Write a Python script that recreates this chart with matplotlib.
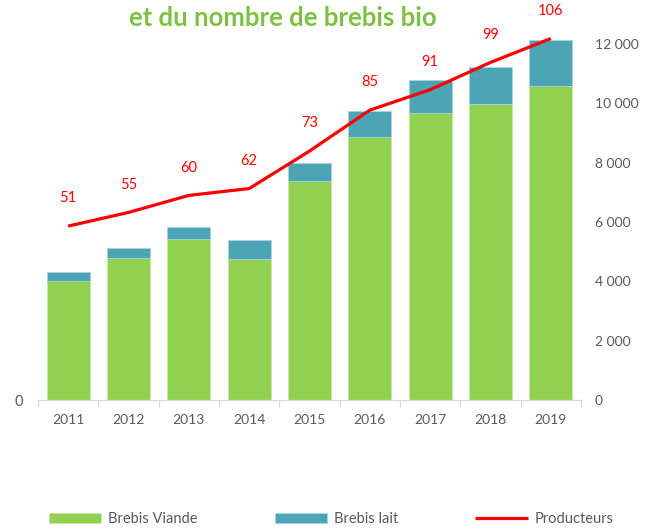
import matplotlib
matplotlib.use("Agg")
import matplotlib.pyplot as plt
from matplotlib.ticker import FuncFormatter, FixedLocator

plt.rcParams['font.family'] = ['Lato', 'DejaVu Sans']

years = ["2011", "2012", "2013", "2014", "2015", "2016", "2017", "2018", "2019"]
brebis_viande = [4010, 4770, 5420, 4750, 7370, 8860, 9680, 9990, 10570]
brebis_lait = [300, 340, 420, 640, 630, 880, 1090, 1250, 1560]
producteurs = [51, 55, 60, 62, 73, 85, 91, 99, 106]
right_ticks = [0, 2000, 4000, 6000, 8000, 10000, 12000]

GREEN = "#92D050"
TEAL = "#4BA5B5"
RED = "#FF0000"
GREY_TXT = "#595959"

fig = plt.figure(figsize=(6.53, 5.30), dpi=100)
ax_bar = fig.add_axes([38 / 653, 130 / 530, 543 / 653, 400 / 530])
ax_line = ax_bar.twinx()

x = list(range(len(years)))
ax_bar.bar(x, brebis_viande, width=0.71, color=GREEN, label="Brebis Viande",
           edgecolor="#C9E8A8", linewidth=0.6, zorder=2)
ax_bar.bar(x, brebis_lait, width=0.71, bottom=brebis_viande, color=TEAL,
           label="Brebis lait", edgecolor="#A9D4DC", linewidth=0.6, zorder=2)

ax_bar.set_xlim(-0.5, len(years) - 0.5)
ax_bar.set_ylim(0, 13482)
ax_line.set_ylim(0, 117.3)

# bars on the right-hand scale, producers on the left-hand scale
ax_bar.yaxis.tick_right()
ax_line.yaxis.tick_left()
ax_bar.set_zorder(1)
ax_line.set_zorder(2)
ax_bar.patch.set_visible(False)

ax_line.plot(x, producteurs, color=RED, linewidth=2.3, label="Producteurs",
             solid_capstyle="butt")
for xi, v in zip(x, producteurs):
    ax_line.annotate(str(v), (xi, v), xytext=(0, 20), textcoords="offset points",
                     ha="center", va="center", color=RED, fontsize=10.5)

def thousands(v, pos):
    return f"{int(v):,}".replace(",", " ")

ax_bar.yaxis.set_major_locator(FixedLocator(right_ticks))
ax_bar.yaxis.set_major_formatter(FuncFormatter(thousands))
ax_bar.tick_params(axis="y", length=0, pad=10, labelsize=10, labelcolor=GREY_TXT)

ax_line.yaxis.set_major_locator(FixedLocator([0]))
ax_line.tick_params(axis="y", length=0, pad=11, labelsize=10.5, labelcolor=GREY_TXT)

ax_bar.set_xticks(x)
ax_bar.set_xticklabels(years)
ax_bar.set_xticks([i + 0.5 for i in range(-1, len(years))], minor=True)
ax_bar.tick_params(axis="x", which="major", length=0, pad=10, labelsize=10,
                   labelcolor=GREY_TXT)
ax_bar.tick_params(axis="x", which="minor", length=5, width=0.9, color="#D9D9D9")

for a in (ax_bar, ax_line):
    for side in ("top", "left", "right"):
        a.spines[side].set_visible(False)
ax_line.spines["bottom"].set_visible(False)
ax_bar.spines["bottom"].set_color("#D9D9D9")
ax_bar.spines["bottom"].set_linewidth(0.9)

fig.text(283 / 653, 1 - 18 / 530, "et du nombre de brebis bio", ha="center",
         va="center", color="#7DC142", fontsize=18.5, fontweight="bold")

handles = ax_bar.get_legend_handles_labels()[0] + ax_line.get_legend_handles_labels()[0]
labels = ["Brebis Viande", "Brebis lait", "Producteurs"]
leg = fig.legend(handles, labels, loc="center", bbox_to_anchor=(331 / 653, 1 - 519 / 530),
                 ncol=3, frameon=False, fontsize=10.5, handlelength=3.6,
                 handletextpad=0.45, columnspacing=5.3)
for t in leg.get_texts():
    t.set_color(GREY_TXT)

fig.savefig("out.png", dpi=100)
